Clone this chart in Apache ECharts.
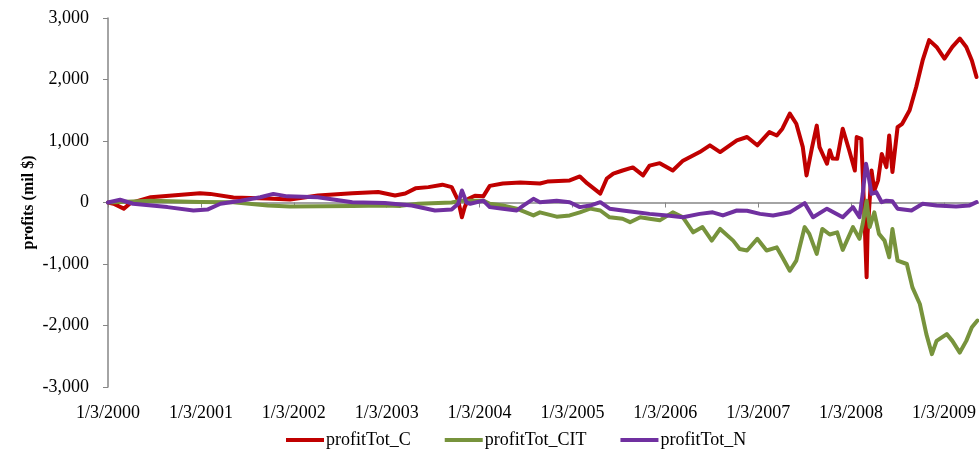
<!DOCTYPE html>
<html>
<head>
<meta charset="utf-8">
<script src="https://cdn.jsdelivr.net/npm/echarts@6/dist/echarts.min.js"></script>
<style>
  html, body { margin: 0; padding: 0; background: #ffffff; }
  #chart { width: 979px; height: 451px; }
</style>
</head>
<body>
<div id="chart"></div>
<script>
// Time is expressed in fractional years (2000.0 = 1/3/2000).
const yearTicks = [2000, 2001, 2002, 2003, 2004, 2005, 2006, 2007, 2008, 2009];
const tickLabels = ['1/3/2000', '1/3/2001', '1/3/2002', '1/3/2003', '1/3/2004',
                    '1/3/2005', '1/3/2006', '1/3/2007', '1/3/2008', '1/3/2009'];
const seriesNames = ['profitTot_C', 'profitTot_CIT', 'profitTot_N'];

// Cumulative profits, mil $
const profitC = [
  [2000.00, 0], [2000.06, -20], [2000.17, -100], [2000.24, -10], [2000.46, 86],
  [2000.99, 150], [2001.10, 140], [2001.35, 80], [2001.72, 65], [2001.96, 50],
  [2002.26, 114], [2002.63, 150], [2002.91, 170], [2003.09, 115], [2003.20, 145],
  [2003.31, 230], [2003.45, 250], [2003.60, 290], [2003.70, 250], [2003.77, 30],
  [2003.81, -240], [2003.84, -75], [2003.88, 60], [2003.95, 110], [2004.04, 100],
  [2004.11, 270], [2004.25, 310], [2004.44, 325], [2004.65, 310], [2004.73, 340],
  [2004.97, 358], [2005.08, 423], [2005.16, 310], [2005.30, 145], [2005.37, 390],
  [2005.44, 470], [2005.54, 520], [2005.65, 570], [2005.76, 440], [2005.83, 600],
  [2005.94, 640], [2006.08, 520], [2006.19, 680], [2006.37, 820], [2006.48, 930],
  [2006.59, 820], [2006.77, 1010], [2006.88, 1065], [2006.99, 930], [2007.12, 1145],
  [2007.20, 1090], [2007.26, 1200], [2007.34, 1445], [2007.41, 1280], [2007.48, 900],
  [2007.52, 440], [2007.58, 900], [2007.63, 1250], [2007.66, 900], [2007.74, 630],
  [2007.77, 850], [2007.80, 715], [2007.85, 710], [2007.91, 1200], [2007.98, 845],
  [2008.04, 520], [2008.06, 1065], [2008.11, 1035], [2008.125, 470], [2008.145, -290],
  [2008.167, -1215], [2008.177, -510], [2008.22, 520], [2008.25, 195], [2008.29, 360],
  [2008.33, 790], [2008.38, 575], [2008.41, 1090], [2008.445, 495], [2008.50, 1225],
  [2008.55, 1280], [2008.63, 1500], [2008.70, 1875], [2008.77, 2310], [2008.84, 2640],
  [2008.92, 2530], [2009.005, 2340], [2009.09, 2530], [2009.17, 2665], [2009.24, 2530],
  [2009.30, 2310], [2009.35, 2040]
];

const profitCIT = [
  [2000.00, 0], [2000.46, 30], [2000.99, 10], [2001.35, 5], [2001.72, -50],
  [2001.96, -65], [2002.29, -60], [2002.63, -55], [2002.98, -50], [2003.15, -55],
  [2003.34, -20], [2003.70, 0], [2003.81, 30], [2003.90, 30], [2004.04, 30],
  [2004.11, -20], [2004.25, -50], [2004.40, -100], [2004.58, -210], [2004.65, -160],
  [2004.83, -230], [2004.97, -210], [2005.08, -160], [2005.19, -100], [2005.30, -130],
  [2005.40, -240], [2005.54, -265], [2005.62, -320], [2005.73, -240], [2005.83, -265],
  [2005.94, -290], [2006.08, -160], [2006.19, -240], [2006.30, -485], [2006.40, -400],
  [2006.50, -620], [2006.59, -430], [2006.73, -620], [2006.80, -755], [2006.88, -780],
  [2006.99, -590], [2007.09, -780], [2007.20, -730], [2007.26, -890], [2007.34, -1110],
  [2007.41, -945], [2007.50, -400], [2007.55, -510], [2007.63, -835], [2007.69, -430],
  [2007.77, -520], [2007.85, -485], [2007.91, -770], [2008.02, -400], [2008.09, -590],
  [2008.125, -345], [2008.167, 30], [2008.20, -400], [2008.25, -160], [2008.30, -510],
  [2008.36, -620], [2008.41, -890], [2008.445, -430], [2008.50, -945], [2008.60, -1000],
  [2008.66, -1380], [2008.74, -1650], [2008.81, -2140], [2008.87, -2465], [2008.92, -2250],
  [2009.03, -2140], [2009.09, -2250], [2009.17, -2440], [2009.24, -2250], [2009.30, -2030],
  [2009.36, -1920]
];

const profitN = [
  [2000.00, 0], [2000.13, 45], [2000.27, -20], [2000.64, -75], [2000.92, -130],
  [2001.07, -115], [2001.21, -20], [2001.43, 30], [2001.64, 85], [2001.78, 140],
  [2001.93, 100], [2002.26, 85], [2002.63, 5], [2002.98, -10], [2003.27, -50],
  [2003.52, -130], [2003.70, -115], [2003.77, -20], [2003.81, 195], [2003.86, 0],
  [2003.90, -20], [2004.04, 30], [2004.11, -75], [2004.25, -100], [2004.40, -130],
  [2004.47, -50], [2004.58, 60], [2004.65, 5], [2004.83, 30], [2004.97, 5],
  [2005.08, -75], [2005.19, -50], [2005.30, 5], [2005.40, -100], [2005.54, -130],
  [2005.69, -160], [2005.83, -185], [2006.02, -210], [2006.19, -240], [2006.37, -185],
  [2006.51, -160], [2006.62, -210], [2006.77, -130], [2006.88, -135], [2007.02, -185],
  [2007.16, -210], [2007.34, -160], [2007.50, -10], [2007.59, -240], [2007.74, -100],
  [2007.80, -150], [2007.91, -240], [2008.02, -75], [2008.09, -240], [2008.125, 140],
  [2008.16, 630], [2008.19, 410], [2008.22, 140], [2008.27, 170], [2008.33, 5],
  [2008.38, 30], [2008.445, 20], [2008.50, -100], [2008.65, -130], [2008.77, -20],
  [2008.92, -50], [2009.13, -65], [2009.27, -50], [2009.35, 5]
];

const FONT = '"Liberation Serif", "Times New Roman", serif';
const AXIS_GREY = '#868686';
const colors = ['#C00000', '#77933C', '#7030A0'];

const chart = echarts.init(document.getElementById('chart'), null, { renderer: 'canvas' });

const labelFor = v => {
  const i = yearTicks.indexOf(Math.round(v * 1000) / 1000);
  return i >= 0 ? tickLabels[i] : '';
};

chart.setOption({
  animation: false,
  backgroundColor: '#ffffff',
  grid: { left: 108, right: 0, top: 18, bottom: 64, containLabel: false },
  legend: {
    top: 426,
    left: 281,
    data: seriesNames,
    icon: 'rect',
    itemWidth: 38,
    itemHeight: 4,
    itemGap: 34,
    textStyle: { fontFamily: FONT, fontSize: 18, color: '#000000', padding: [0, 0, 0, -3] }
  },
  xAxis: [
    {
      // axis line through zero with yearly tick marks
      type: 'value',
      min: 2000,
      max: 2009.37,
      interval: 1,
      axisLine: { onZero: true, lineStyle: { color: AXIS_GREY, width: 1.5 } },
      axisTick: { show: true, length: 5, customValues: yearTicks, lineStyle: { color: AXIS_GREY, width: 1 } },
      axisLabel: { show: false },
      splitLine: { show: false }
    },
    {
      // date labels along the bottom edge
      type: 'value',
      position: 'bottom',
      min: 2000,
      max: 2009.37,
      interval: 1,
      axisLine: { show: false, onZero: false },
      axisTick: { show: false },
      splitLine: { show: false },
      axisLabel: {
        show: true,
        margin: 17,
        customValues: yearTicks,
        formatter: labelFor,
        fontFamily: FONT,
        fontSize: 18,
        color: '#000000',
        showMinLabel: true,
        showMaxLabel: true
      }
    }
  ],
  yAxis: {
    type: 'value',
    min: -3000,
    max: 3000,
    interval: 1000,
    name: 'profits (mil $)',
    nameLocation: 'middle',
    nameRotate: 90,
    nameGap: 71,
    nameMoveOverlap: false,
    nameTextStyle: { fontFamily: FONT, fontSize: 16, fontWeight: 'bold', color: '#000000' },
    axisLine: { show: true, lineStyle: { color: AXIS_GREY, width: 1.5 } },
    axisTick: { show: true, length: 5, lineStyle: { color: AXIS_GREY, width: 1 } },
    splitLine: { show: false },
    axisLabel: {
      margin: 19,
      fontFamily: FONT,
      fontSize: 18,
      color: '#000000',
      formatter: v => (v < 0 ? '-' : '') + Math.abs(v).toLocaleString('en-US')
    }
  },
  series: [profitC, profitCIT, profitN].map((data, i) => ({
    name: seriesNames[i],
    type: 'line',
    xAxisIndex: 0,
    data: data,
    showSymbol: false,
    symbol: 'none',
    smooth: false,
    color: colors[i],
    lineStyle: { color: colors[i], width: 4, join: 'round', cap: 'round' }
  }))
});
</script>
</body>
</html>
